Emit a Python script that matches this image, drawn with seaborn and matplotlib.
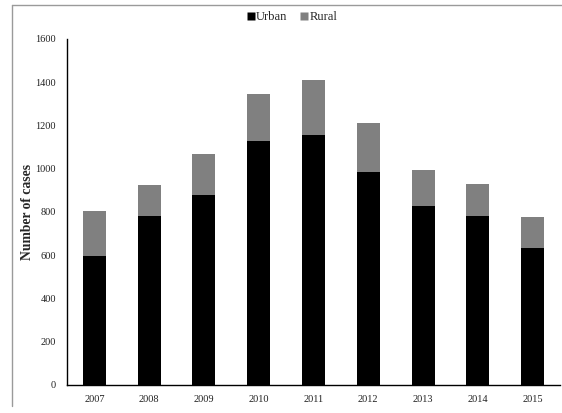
import matplotlib
matplotlib.use("Agg")
import matplotlib.pyplot as plt
from matplotlib.lines import Line2D
import seaborn as sns
import pandas as pd
import numpy as np

years = ["2007", "2008", "2009", "2010", "2011", "2012", "2013", "2014", "2015"]
urban = [595, 782, 880, 1130, 1156, 983, 828, 783, 635]
rural = [210, 143, 187, 214, 254, 230, 165, 148, 140]
y_ticks = [0, 200, 400, 600, 800, 1000, 1200, 1400, 1600]

sns.set_style("white")
plt.rcParams['font.family'] = ['Liberation Serif', 'DejaVu Serif']

df = pd.DataFrame({"year": years, "Urban": urban, "Rural": rural})
df["Total"] = df["Urban"] + df["Rural"]

fig = plt.figure(figsize=(5.62, 4.13), dpi=100)
ax = fig.add_axes([67/562, 1 - 385/413, (560 - 67)/562, (385 - 39)/413])

sns.barplot(data=df, x="year", y="Total", color="#808080", width=0.42,
            saturation=1, ax=ax, linewidth=0)
sns.barplot(data=df, x="year", y="Urban", color="#000000", width=0.42,
            saturation=1, ax=ax, linewidth=0)

ax.set_ylim(0, 1600)
ax.set_xlim(-0.5, len(years) - 0.5)
ax.set_yticks(y_ticks)
ax.set_yticklabels([str(t) for t in y_ticks])
ax.tick_params(axis="both", length=0, labelsize=7.5, colors="#222222")
ax.tick_params(axis="y", pad=8)
ax.tick_params(axis="x", pad=7)
ax.set_xlabel("")
ax.set_ylabel("Number of cases", fontsize=9.8, fontweight="bold", labelpad=1)

for s in ["top", "right"]:
    ax.spines[s].set_visible(False)
for s in ["left", "bottom"]:
    ax.spines[s].set_color("black")
    ax.spines[s].set_linewidth(1.0)

handles = [Line2D([0], [0], marker="s", color="none", markerfacecolor="#000000",
                  markeredgecolor="none", markersize=6, label="Urban"),
           Line2D([0], [0], marker="s", color="none", markerfacecolor="#808080",
                  markeredgecolor="none", markersize=6, label="Rural")]
fig.legend(handles=handles, loc="center", bbox_to_anchor=(292/562, 1 - 17/413),
           ncol=2, frameon=False, fontsize=9, handlelength=0.6,
           handletextpad=0.15, columnspacing=1.0)

# outer frame lines (top and left)
fig.add_artist(Line2D([12/562, 1.0], [1 - 5/413, 1 - 5/413], color="#9a9a9a",
                      linewidth=1.0, transform=fig.transFigure))
fig.add_artist(Line2D([12/562, 12/562], [1 - 5/413, 1 - 406/413], color="#9a9a9a",
                      linewidth=1.0, transform=fig.transFigure))

fig.savefig("out.png", dpi=100)
